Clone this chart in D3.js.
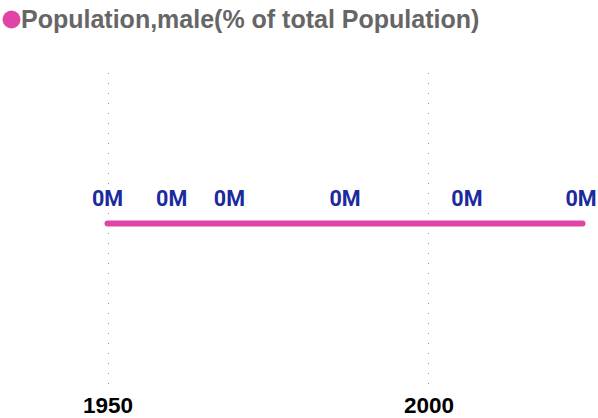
<!DOCTYPE html>
<html>
<head>
<meta charset="utf-8">
<script src="https://cdn.jsdelivr.net/npm/d3@7/dist/d3.min.js"></script>
<style>
  html, body { margin: 0; padding: 0; background: #fff; }
  svg { display: block; }
</style>
</head>
<body>
<svg id="chart" width="598" height="418"></svg>
<script>
const seriesName = "Population,male(% of total Population)";
const years = [1950, 1960, 1969, 1987, 2006, 2024];
const values = [50.0, 50.0, 50.0, 50.0, 50.0, 50.0];
const tickYears = [1950, 2000];

const W = 598, H = 418;
const svg = d3.select("#chart");

const x = d3.scaleLinear().domain([1950, 2024]).range([107.5, 582.5]);
const y = d3.scaleLinear().domain([0, 100]).range([385, 62]);

const data = years.map((yr, i) => ({ year: yr, value: values[i] }));

// gridlines
svg.append("g").selectAll("line").data(tickYears).join("line")
  .attr("x1", d => Math.round(x(d)) + 0.5).attr("x2", d => Math.round(x(d)) + 0.5)
  .attr("y1", 73).attr("y2", 386)
  .attr("stroke", "#9a9a9a").attr("stroke-width", 1)
  .attr("stroke-dasharray", "1,9");

// x axis labels
const xAxis = d3.axisBottom(x).tickValues(tickYears).tickFormat(d3.format("d")).tickSize(0);
const ax = svg.append("g").attr("transform", "translate(0,397)").call(xAxis);
ax.select(".domain").remove();
ax.selectAll("text")
  .attr("dy", 0).attr("y", 16)
  .attr("font-family", "'Liberation Sans', Arial, sans-serif")
  .attr("font-weight", "bold").attr("font-size", 22.5).attr("fill", "#000");

// line
const line = d3.line().x(d => x(d.year)).y(d => y(d.value));
svg.append("path").datum(data)
  .attr("d", line).attr("fill", "none")
  .attr("stroke", "#e044a4").attr("stroke-width", 6)
  .attr("stroke-linecap", "round").attr("stroke-linejoin", "round");

// value labels
const fmt = v => d3.format(".0f")(v / 1e6) + "M";
svg.append("g").selectAll("text").data(data).join("text")
  .attr("x", d => Math.min(x(d.year), 581))
  .attr("y", d => y(d.value) - 17.5)
  .attr("text-anchor", "middle")
  .attr("font-family", "Roboto, sans-serif")
  .attr("font-weight", "bold").attr("font-size", 21.5)
  .attr("fill", "#1b2a9e")
  .text(d => fmt(d.value));

// legend
const lg = svg.append("g");
lg.append("circle").attr("cx", 11.5).attr("cy", 19.5).attr("r", 9).attr("fill", "#e044a4");
lg.append("text").attr("x", 21).attr("y", 28)
  .attr("font-family", "'Liberation Sans', Arial, sans-serif")
  .attr("font-weight", "bold").attr("font-size", 25).attr("fill", "#666")
  .text(seriesName);
</script>
</body>
</html>
